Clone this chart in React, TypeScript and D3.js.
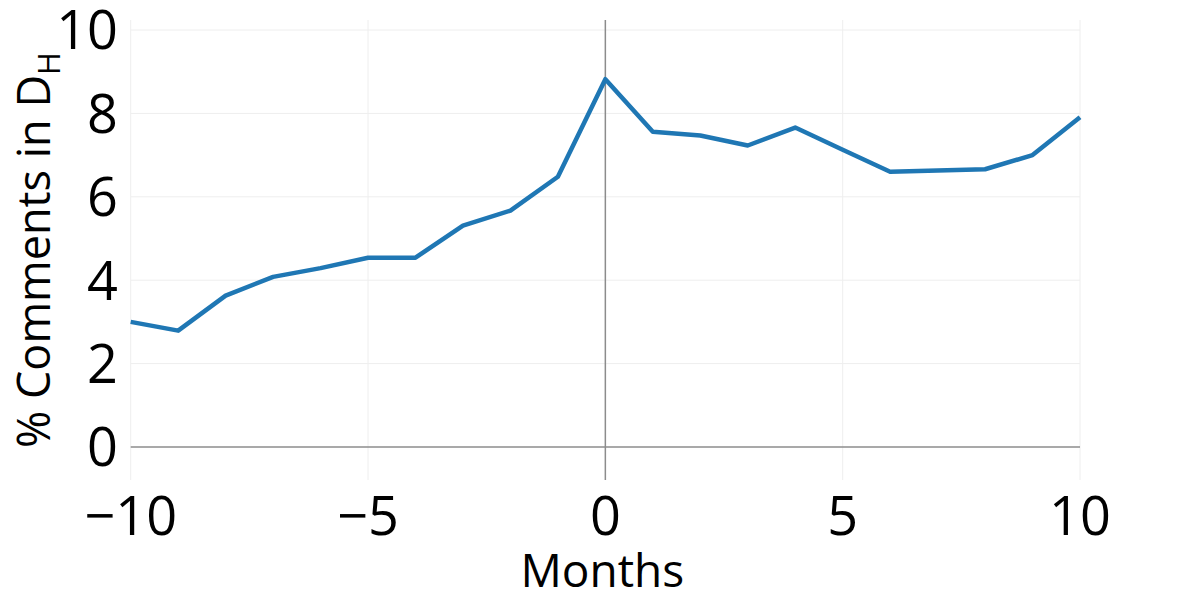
import React from "react";
import * as d3 from "d3";

const months = [-10, -9, -8, -7, -6, -5, -4, -3, -2, -1, 0, 1, 2, 3, 4, 5, 6, 7, 8, 9, 10];
const pctComments = [3.0, 2.79, 3.63, 4.08, 4.29, 4.54, 4.54, 5.31, 5.67, 6.48, 8.82, 7.56, 7.47, 7.23, 7.66, 7.13, 6.6, 6.63, 6.66, 7.0, 7.91];
const xTicks = [-10, -5, 0, 5, 10];
const yTicks = [0, 2, 4, 6, 8, 10];

const W = 1200;
const H = 600;
const plotLeft = 130.7;
const plotRight = 1080;
const plotTop = 20;
const plotBottom = 480;
const FONT = "'Open Sans', 'Noto Sans', sans-serif";

export default function App() {
  const x = d3.scaleLinear().domain([-10, 10]).range([plotLeft, plotRight]);
  const y = d3.scaleLinear().domain([0, 10]).range([447, 30]);
  const line = d3
    .line<number>()
    .x((_, i) => x(months[i]))
    .y((d) => y(d));
  const fmt = (v: number) => (v < 0 ? "\u2212" + Math.abs(v) : String(v));
  const titleY = (plotTop + plotBottom) / 2;
  return (
    <svg
      width={W}
      height={H}
      style={{ position: "absolute", left: 0, top: 0, background: "#fff" }}
      fontFamily={FONT}
    >
      {xTicks
        .filter((t) => t !== 0)
        .map((t) => (
          <line key={"gx" + t} x1={x(t)} x2={x(t)} y1={plotTop} y2={plotBottom} stroke="#eeeeee" strokeWidth={1} />
        ))}
      {yTicks
        .filter((t) => t !== 0)
        .map((t) => (
          <line key={"gy" + t} x1={plotLeft} x2={plotRight} y1={y(t)} y2={y(t)} stroke="#eeeeee" strokeWidth={1} />
        ))}
      <line x1={x(0)} x2={x(0)} y1={plotTop} y2={plotBottom} stroke="#8c8c8c" strokeWidth={1.5} />
      <line x1={plotLeft} x2={plotRight} y1={y(0)} y2={y(0)} stroke="#8c8c8c" strokeWidth={1.5} />
      <path d={line(pctComments) || ""} fill="none" stroke="#1f77b4" strokeWidth={4.5} strokeLinejoin="round" strokeLinecap="butt" />
      {yTicks.map((t) => (
        <text key={"ty" + t} x={118} y={y(t)} dy="0.36em" textAnchor="end" fontSize={54} fill="#000">
          {fmt(t)}
        </text>
      ))}
      {xTicks.map((t) => (
        <text key={"tx" + t} x={x(t)} y={535} textAnchor="middle" fontSize={54} fill="#000">
          {fmt(t)}
        </text>
      ))}
      <text x={x(0) - 3} y={587} textAnchor="middle" fontSize={46} fill="#000">
        Months
      </text>
      <text
        transform={`translate(50,${titleY}) rotate(-90)`}
        textAnchor="middle"
        fontSize={45}
        fill="#000"
      >
        % Comments in D
        <tspan fontSize={31} dy={10}>
          H
        </tspan>
      </text>
    </svg>
  );
}
